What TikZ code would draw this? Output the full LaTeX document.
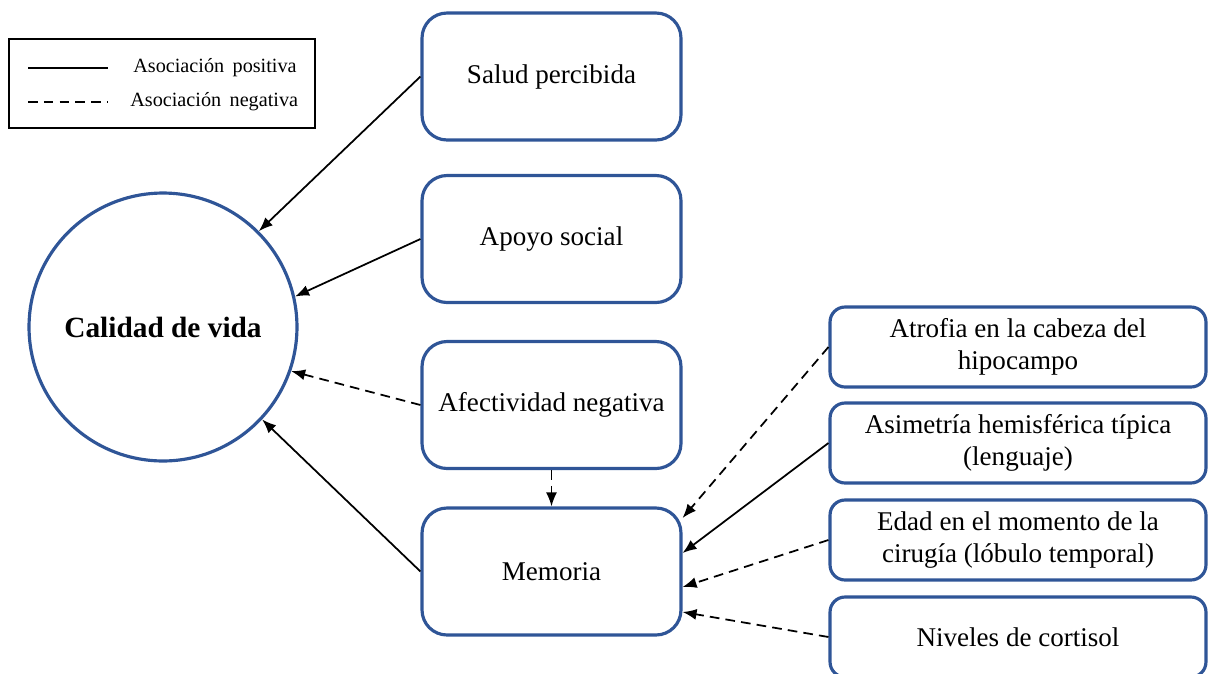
\documentclass[tikz,border=0pt]{standalone}
\usepackage{fontspec}
\setmainfont{Liberation Serif}
\usepackage{xcolor}
\usetikzlibrary{arrows.meta,positioning}
\definecolor{boxblue}{RGB}{47,85,151}
\tikzset{
  factorbox/.style={draw=boxblue,line width=1.8pt,rounded corners=0.5cm,align=center,
    minimum width=5.18cm,minimum height=2.54cm,inner sep=0pt,font=\fontsize{15.4}{18.5}\selectfont},
  brainbox/.style={draw=boxblue,line width=1.8pt,rounded corners=0.3cm,align=center,
    minimum width=7.52cm,minimum height=1.6cm,inner sep=0pt,font=\fontsize{15.4}{18.3}\selectfont},
  outcomecircle/.style={circle,draw=boxblue,line width=1.8pt,minimum size=5.36cm,inner sep=0pt,
    font=\bfseries\fontsize{16.7}{20}\selectfont},
  posarrow/.style={-{Latex[length=2.8mm,width=2.2mm]},line width=1pt},
  negarrow/.style={posarrow,dash pattern=on 5.5pt off 3.5pt},
  legendtext/.style={font=\fontsize{11.5}{14}\selectfont,anchor=west,inner sep=0pt}
}

\begin{document}
\begin{tikzpicture}[x=0.02cm,y=-0.02cm]
  \useasboundingbox (0,0) rectangle (1209,673);
  % legend
  \draw[line width=0.7pt] (9,39) rectangle (315,128);
  \draw[line width=1pt] (28,68) -- (108,68);
  \draw[line width=1pt,dash pattern=on 5.5pt off 3.5pt] (28,102) -- (108,102);
  \node[legendtext] (legpos) at (133,68) {Asociación\, positiva};
  \node[legendtext] (legneg) at (130,102) {Asociación\, negativa};
  % outcome
  \node[outcomecircle] (cv) at (163,327) {Calidad de vida};
  % factors
  \node[factorbox] (salud) at (551.5,76.5) {Salud percibida};
  \node[factorbox] (apoyo) at (551.5,239) {Apoyo social};
  \node[factorbox] (afect) at (551.5,405) {Afectividad negativa};
  \node[factorbox] (mem) at (551.5,571.5) {Memoria};
  % predictors of memory
  \node[brainbox] (atrofia) at (1018,347) {Atrofia en la cabeza del\\hipocampo};
  \node[brainbox] (asim) at (1018,443) {Asimetría hemisférica típica\\(lenguaje)};
  \node[brainbox] (edad) at (1018,540) {Edad en el momento de la\\cirugía (lóbulo temporal)};
  \node[brainbox] (cort) at (1018,637) {Niveles de cortisol};
  % associations
  \draw[posarrow] (salud.west) -- (cv.45);
  \draw[posarrow] (apoyo.west) -- (cv.13);
  \draw[negarrow] (afect.west) -- (cv.-19);
  \draw[posarrow] (mem.west) -- (cv.-43);
  \draw[negarrow] (afect.south) -- (mem.north);
  \draw[negarrow] (atrofia.west) -- ([yshift=1.07cm]mem.east);
  \draw[posarrow] (asim.west) -- ([yshift=0.37cm]mem.east);
  \draw[negarrow] (edad.west) -- ([yshift=-0.31cm]mem.east);
  \draw[negarrow] (cort.west) -- ([yshift=-0.81cm]mem.east);
\end{tikzpicture}
\end{document}
